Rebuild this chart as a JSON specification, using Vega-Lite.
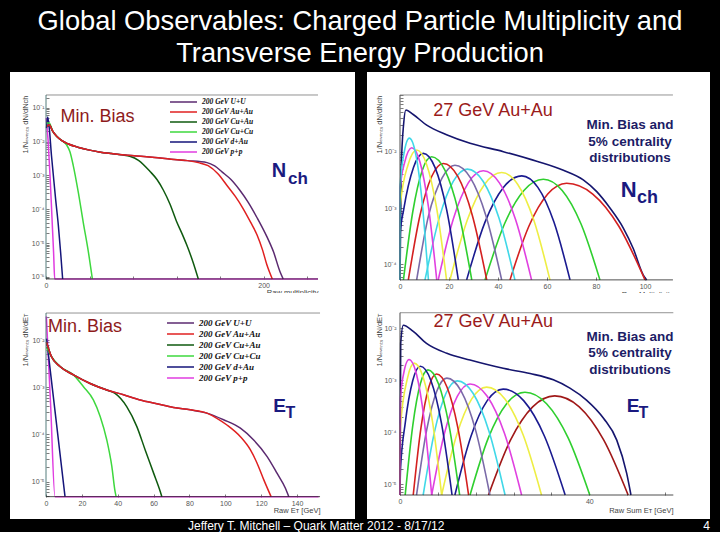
{
"$schema": "https://vega.github.io/schema/vega-lite/v6.json",
"background": "black",
"padding": {"left": 10, "right": 10, "top": 7, "bottom": 0},
"title": {"text": ["Global Observables: Charged Particle Multiplicity and", "Transverse Energy Production"], "color": "white", "font": "Liberation Sans", "fontSize": 27.3, "fontWeight": "normal", "lineHeight": 32, "anchor": "middle", "baseline": "top", "offset": 5},
"config": {
  "view": {"fill": "white", "stroke": null},
  "axis": {"grid": false, "domain": false, "labelFont": "Liberation Sans", "labelFontSize": 7, "labelColor": "#555", "titleFont": "Liberation Sans", "titleFontSize": 7.5, "titleFontWeight": "normal", "titleColor": "#444", "tickColor": "#444", "tickWidth": 0.7, "tickSize": -3, "labelOverlap": false, "labelFlush": false}
},
"datasets": {
  "tl": [
    {"s": "200 GeV p+p", "x": 0.3, "y": 5.01e-2}, {"s": "200 GeV p+p", "x": 1, "y": 2.51e-2}, {"s": "200 GeV p+p", "x": 2, "y": 1.0e-2}, {"s": "200 GeV p+p", "x": 3, "y": 2.51e-3}, {"s": "200 GeV p+p", "x": 4, "y": 6.31e-4}, {"s": "200 GeV p+p", "x": 5, "y": 1.26e-4}, {"s": "200 GeV p+p", "x": 6, "y": 2.51e-5}, {"s": "200 GeV p+p", "x": 7, "y": 5.01e-6}, {"s": "200 GeV p+p", "x": 8, "y": 8.71e-7}, {"s": "200 GeV p+p", "x": 250, "y": 8.71e-7},
    {"s": "200 GeV d+Au", "x": 0.5, "y": 2.51e-2}, {"s": "200 GeV d+Au", "x": 1.5, "y": 5.37e-2}, {"s": "200 GeV d+Au", "x": 3, "y": 2.51e-2}, {"s": "200 GeV d+Au", "x": 5, "y": 3.98e-3}, {"s": "200 GeV d+Au", "x": 6.7, "y": 1.05e-3}, {"s": "200 GeV d+Au", "x": 9, "y": 1.78e-4}, {"s": "200 GeV d+Au", "x": 11.3, "y": 3.47e-5}, {"s": "200 GeV d+Au", "x": 13.5, "y": 5.01e-6}, {"s": "200 GeV d+Au", "x": 15.3, "y": 8.71e-7},
    {"s": "200 GeV Cu+Cu", "x": 0.5, "y": 3.55e-2}, {"s": "200 GeV Cu+Cu", "x": 3, "y": 3.55e-2}, {"s": "200 GeV Cu+Cu", "x": 6, "y": 2.09e-2}, {"s": "200 GeV Cu+Cu", "x": 10, "y": 1.41e-2}, {"s": "200 GeV Cu+Cu", "x": 15, "y": 1.05e-2}, {"s": "200 GeV Cu+Cu", "x": 19, "y": 7.94e-3}, {"s": "200 GeV Cu+Cu", "x": 22, "y": 5.01e-3}, {"s": "200 GeV Cu+Cu", "x": 25, "y": 2.0e-3}, {"s": "200 GeV Cu+Cu", "x": 29.7, "y": 3.16e-4}, {"s": "200 GeV Cu+Cu", "x": 34.3, "y": 3.98e-5}, {"s": "200 GeV Cu+Cu", "x": 38.9, "y": 5.62e-6}, {"s": "200 GeV Cu+Cu", "x": 42.6, "y": 8.71e-7},
    {"s": "200 GeV Cu+Au", "x": 1, "y": 2.82e-2}, {"s": "200 GeV Cu+Au", "x": 3, "y": 3.16e-2}, {"s": "200 GeV Cu+Au", "x": 6, "y": 2.09e-2}, {"s": "200 GeV Cu+Au", "x": 10, "y": 1.41e-2}, {"s": "200 GeV Cu+Au", "x": 15, "y": 1.05e-2}, {"s": "200 GeV Cu+Au", "x": 20, "y": 8.71e-3}, {"s": "200 GeV Cu+Au", "x": 30, "y": 6.76e-3}, {"s": "200 GeV Cu+Au", "x": 40, "y": 5.62e-3}, {"s": "200 GeV Cu+Au", "x": 50, "y": 4.90e-3}, {"s": "200 GeV Cu+Au", "x": 60, "y": 4.47e-3}, {"s": "200 GeV Cu+Au", "x": 70, "y": 4.07e-3}, {"s": "200 GeV Cu+Au", "x": 77, "y": 3.72e-3}, {"s": "200 GeV Cu+Au", "x": 85, "y": 2.82e-3}, {"s": "200 GeV Cu+Au", "x": 95.6, "y": 1.32e-3}, {"s": "200 GeV Cu+Au", "x": 102, "y": 7.59e-4}, {"s": "200 GeV Cu+Au", "x": 107.8, "y": 3.72e-4}, {"s": "200 GeV Cu+Au", "x": 114, "y": 1.41e-4}, {"s": "200 GeV Cu+Au", "x": 120, "y": 4.37e-5}, {"s": "200 GeV Cu+Au", "x": 125, "y": 1.91e-5}, {"s": "200 GeV Cu+Au", "x": 129.3, "y": 8.91e-6}, {"s": "200 GeV Cu+Au", "x": 135, "y": 2.82e-6}, {"s": "200 GeV Cu+Au", "x": 140, "y": 8.71e-7},
    {"s": "200 GeV U+U", "x": 1, "y": 2.82e-2}, {"s": "200 GeV U+U", "x": 3, "y": 3.16e-2}, {"s": "200 GeV U+U", "x": 6, "y": 2.09e-2}, {"s": "200 GeV U+U", "x": 10, "y": 1.41e-2}, {"s": "200 GeV U+U", "x": 15, "y": 1.05e-2}, {"s": "200 GeV U+U", "x": 20, "y": 8.71e-3}, {"s": "200 GeV U+U", "x": 30, "y": 6.76e-3}, {"s": "200 GeV U+U", "x": 40, "y": 5.62e-3}, {"s": "200 GeV U+U", "x": 50, "y": 4.90e-3}, {"s": "200 GeV U+U", "x": 60, "y": 4.47e-3}, {"s": "200 GeV U+U", "x": 75, "y": 3.98e-3}, {"s": "200 GeV U+U", "x": 90, "y": 3.63e-3}, {"s": "200 GeV U+U", "x": 100, "y": 3.39e-3}, {"s": "200 GeV U+U", "x": 115, "y": 3.02e-3}, {"s": "200 GeV U+U", "x": 130, "y": 2.75e-3}, {"s": "200 GeV U+U", "x": 148, "y": 2.40e-3}, {"s": "200 GeV U+U", "x": 155, "y": 1.91e-3}, {"s": "200 GeV U+U", "x": 162, "y": 1.26e-3}, {"s": "200 GeV U+U", "x": 170, "y": 7.59e-4}, {"s": "200 GeV U+U", "x": 178, "y": 3.72e-4}, {"s": "200 GeV U+U", "x": 186, "y": 1.58e-4}, {"s": "200 GeV U+U", "x": 194, "y": 5.62e-5}, {"s": "200 GeV U+U", "x": 203, "y": 1.55e-5}, {"s": "200 GeV U+U", "x": 209, "y": 5.62e-6}, {"s": "200 GeV U+U", "x": 215, "y": 1.45e-6}, {"s": "200 GeV U+U", "x": 218, "y": 8.71e-7},
    {"s": "200 GeV Au+Au", "x": 1, "y": 2.82e-2}, {"s": "200 GeV Au+Au", "x": 3, "y": 3.16e-2}, {"s": "200 GeV Au+Au", "x": 6, "y": 2.09e-2}, {"s": "200 GeV Au+Au", "x": 10, "y": 1.41e-2}, {"s": "200 GeV Au+Au", "x": 15, "y": 1.05e-2}, {"s": "200 GeV Au+Au", "x": 20, "y": 8.71e-3}, {"s": "200 GeV Au+Au", "x": 30, "y": 6.76e-3}, {"s": "200 GeV Au+Au", "x": 40, "y": 5.62e-3}, {"s": "200 GeV Au+Au", "x": 50, "y": 4.90e-3}, {"s": "200 GeV Au+Au", "x": 60, "y": 4.47e-3}, {"s": "200 GeV Au+Au", "x": 75, "y": 3.98e-3}, {"s": "200 GeV Au+Au", "x": 90, "y": 3.63e-3}, {"s": "200 GeV Au+Au", "x": 100, "y": 3.39e-3}, {"s": "200 GeV Au+Au", "x": 115, "y": 3.02e-3}, {"s": "200 GeV Au+Au", "x": 130, "y": 2.75e-3}, {"s": "200 GeV Au+Au", "x": 140, "y": 2.40e-3}, {"s": "200 GeV Au+Au", "x": 149, "y": 1.95e-3}, {"s": "200 GeV Au+Au", "x": 158, "y": 1.12e-3}, {"s": "200 GeV Au+Au", "x": 166, "y": 5.25e-4}, {"s": "200 GeV Au+Au", "x": 174, "y": 2.40e-4}, {"s": "200 GeV Au+Au", "x": 181, "y": 1.07e-4}, {"s": "200 GeV Au+Au", "x": 188, "y": 4.17e-5}, {"s": "200 GeV Au+Au", "x": 194, "y": 1.74e-5}, {"s": "200 GeV Au+Au", "x": 199, "y": 6.31e-6}, {"s": "200 GeV Au+Au", "x": 203, "y": 2.29e-6}, {"s": "200 GeV Au+Au", "x": 208, "y": 8.71e-7}
  ],
  "tr": [
    {"s": "mb", "x": 0, "y": 5.3e-5}, {"s": "mb", "x": 0.5, "y": 5.01e-3}, {"s": "mb", "x": 1.5, "y": 3.16e-2}, {"s": "mb", "x": 2.4, "y": 5.50e-2}, {"s": "mb", "x": 5.4, "y": 4.57e-2}, {"s": "mb", "x": 10.9, "y": 2.95e-2}, {"s": "mb", "x": 19, "y": 2.0e-2}, {"s": "mb", "x": 28.6, "y": 1.41e-2}, {"s": "mb", "x": 42.2, "y": 1.0e-2}, {"s": "mb", "x": 55.8, "y": 6.76e-3}, {"s": "mb", "x": 66.7, "y": 4.68e-3}, {"s": "mb", "x": 74.8, "y": 3.16e-3}, {"s": "mb", "x": 80.3, "y": 1.95e-3}, {"s": "mb", "x": 85.7, "y": 1.0e-3}, {"s": "mb", "x": 91.2, "y": 4.37e-4}, {"s": "mb", "x": 95.2, "y": 1.91e-4}, {"s": "mb", "x": 99.3, "y": 6.46e-5}, {"s": "mb", "x": 100.7, "y": 5.3e-5},
    {"s": "c1", "x": 44.9, "y": 5.3e-5}, {"s": "c1", "x": 52.6, "y": 4.75e-4}, {"s": "c1", "x": 60.3, "y": 1.77e-3}, {"s": "c1", "x": 68, "y": 2.75e-3}, {"s": "c1", "x": 78.67, "y": 1.77e-3}, {"s": "c1", "x": 89.33, "y": 4.75e-4}, {"s": "c1", "x": 100, "y": 5.3e-5},
    {"s": "c2", "x": 34.7, "y": 5.3e-5}, {"s": "c2", "x": 42.63, "y": 5.2e-4}, {"s": "c2", "x": 50.57, "y": 2.05e-3}, {"s": "c2", "x": 58.5, "y": 3.24e-3}, {"s": "c2", "x": 66.2, "y": 2.05e-3}, {"s": "c2", "x": 73.9, "y": 5.2e-4}, {"s": "c2", "x": 81.6, "y": 5.3e-5},
    {"s": "c3", "x": 27.2, "y": 5.3e-5}, {"s": "c3", "x": 34.7, "y": 5.62e-4}, {"s": "c3", "x": 42.2, "y": 2.32e-3}, {"s": "c3", "x": 49.7, "y": 3.72e-3}, {"s": "c3", "x": 56.27, "y": 2.32e-3}, {"s": "c3", "x": 62.83, "y": 5.62e-4}, {"s": "c3", "x": 69.4, "y": 5.3e-5},
    {"s": "c4", "x": 20.4, "y": 5.3e-5}, {"s": "c4", "x": 27.43, "y": 6.07e-4}, {"s": "c4", "x": 34.47, "y": 2.62e-3}, {"s": "c4", "x": 41.5, "y": 4.27e-3}, {"s": "c4", "x": 48.07, "y": 2.62e-3}, {"s": "c4", "x": 54.63, "y": 6.07e-4}, {"s": "c4", "x": 61.2, "y": 5.3e-5},
    {"s": "c5", "x": 15.6, "y": 5.3e-5}, {"s": "c5", "x": 21.73, "y": 6.31e-4}, {"s": "c5", "x": 27.87, "y": 2.79e-3}, {"s": "c5", "x": 34, "y": 4.57e-3}, {"s": "c5", "x": 40.57, "y": 2.79e-3}, {"s": "c5", "x": 47.13, "y": 6.31e-4}, {"s": "c5", "x": 53.7, "y": 5.3e-5},
    {"s": "c6", "x": 10.2, "y": 5.3e-5}, {"s": "c6", "x": 15.97, "y": 6.55e-4}, {"s": "c6", "x": 21.73, "y": 2.96e-3}, {"s": "c6", "x": 27.5, "y": 4.9e-3}, {"s": "c6", "x": 33.97, "y": 2.96e-3}, {"s": "c6", "x": 40.43, "y": 6.55e-4}, {"s": "c6", "x": 46.9, "y": 5.3e-5},
    {"s": "c7", "x": 6.8, "y": 5.3e-5}, {"s": "c7", "x": 11.6, "y": 7.16e-4}, {"s": "c7", "x": 17.2, "y": 3.42e-3}, {"s": "c7", "x": 22.4, "y": 5.75e-3}, {"s": "c7", "x": 28.77, "y": 3.42e-3}, {"s": "c7", "x": 35.13, "y": 7.16e-4}, {"s": "c7", "x": 41.5, "y": 5.3e-5},
    {"s": "c8", "x": 3.4, "y": 5.3e-5}, {"s": "c8", "x": 8.17, "y": 7.45e-4}, {"s": "c8", "x": 12.93, "y": 3.63e-3}, {"s": "c8", "x": 17.7, "y": 6.17e-3}, {"s": "c8", "x": 23.6, "y": 3.63e-3}, {"s": "c8", "x": 29.5, "y": 7.45e-4}, {"s": "c8", "x": 35.4, "y": 5.3e-5},
    {"s": "c9", "x": 1.4, "y": 5.3e-5}, {"s": "c9", "x": 5.23, "y": 8.67e-4}, {"s": "c9", "x": 9.07, "y": 4.65e-3}, {"s": "c9", "x": 12.9, "y": 8.13e-3}, {"s": "c9", "x": 18.37, "y": 4.65e-3}, {"s": "c9", "x": 23.83, "y": 8.67e-4}, {"s": "c9", "x": 29.3, "y": 5.3e-5},
    {"s": "c10", "x": 0, "y": 5.3e-5}, {"s": "c10", "x": 0.1, "y": 3.63e-4}, {"s": "c10", "x": 1.5, "y": 9.38e-4}, {"s": "c10", "x": 5.5, "y": 5.25e-3}, {"s": "c10", "x": 9.5, "y": 9.33e-3}, {"s": "c10", "x": 14.27, "y": 5.25e-3}, {"s": "c10", "x": 19.03, "y": 9.38e-4}, {"s": "c10", "x": 23.8, "y": 5.3e-5},
    {"s": "c11", "x": 0, "y": 5.3e-5}, {"s": "c11", "x": 0.1, "y": 1.106e-3}, {"s": "c11", "x": 3.33, "y": 5.94e-3}, {"s": "c11", "x": 6.8, "y": 1.07e-2}, {"s": "c11", "x": 10.87, "y": 5.94e-3}, {"s": "c11", "x": 14.93, "y": 1.01e-3}, {"s": "c11", "x": 19, "y": 5.3e-5},
    {"s": "c12", "x": 0, "y": 5.3e-5}, {"s": "c12", "x": 0.1, "y": 2.29e-3}, {"s": "c12", "x": 1.9, "y": 6.44e-3}, {"s": "c12", "x": 4.8, "y": 1.175e-2}, {"s": "c12", "x": 8.2, "y": 6.44e-3}, {"s": "c12", "x": 11.6, "y": 1.06e-3}, {"s": "c12", "x": 15, "y": 5.3e-5},
    {"s": "c13", "x": 0, "y": 5.3e-5}, {"s": "c13", "x": 0.1, "y": 2.57e-3}, {"s": "c13", "x": 1.6, "y": 9.12e-3}, {"s": "c13", "x": 3.8, "y": 1.74e-2}, {"s": "c13", "x": 6.4, "y": 9.12e-3}, {"s": "c13", "x": 9.0, "y": 1.32e-3}, {"s": "c13", "x": 11.6, "y": 5.3e-5}
  ],
  "bl": [
    {"s": "200 GeV p+p", "x": 0.2, "y": 3.16e-2}, {"s": "200 GeV p+p", "x": 2.6, "y": 3.98e-4}, {"s": "200 GeV p+p", "x": 5.0, "y": 4.79e-6}, {"s": "200 GeV p+p", "x": 152, "y": 4.79e-6},
    {"s": "200 GeV d+Au", "x": 0.3, "y": 1.07e-2}, {"s": "200 GeV d+Au", "x": 5.5, "y": 2.19e-4}, {"s": "200 GeV d+Au", "x": 10.6, "y": 4.79e-6},
    {"s": "200 GeV Cu+Cu", "x": 0.3, "y": 7.08e-3}, {"s": "200 GeV Cu+Cu", "x": 3, "y": 4.47e-3}, {"s": "200 GeV Cu+Cu", "x": 7.8, "y": 2.75e-3}, {"s": "200 GeV Cu+Cu", "x": 15.3, "y": 1.82e-3}, {"s": "200 GeV Cu+Cu", "x": 20.9, "y": 1.02e-3}, {"s": "200 GeV Cu+Cu", "x": 26.4, "y": 5.37e-4}, {"s": "200 GeV Cu+Cu", "x": 30.2, "y": 2.40e-4}, {"s": "200 GeV Cu+Cu", "x": 33.9, "y": 7.59e-5}, {"s": "200 GeV Cu+Cu", "x": 36.7, "y": 2.09e-5}, {"s": "200 GeV Cu+Cu", "x": 38.5, "y": 6.17e-6}, {"s": "200 GeV Cu+Cu", "x": 39.1, "y": 4.79e-6},
    {"s": "200 GeV Cu+Au", "x": 0.3, "y": 8.91e-3}, {"s": "200 GeV Cu+Au", "x": 3, "y": 4.47e-3}, {"s": "200 GeV Cu+Au", "x": 7.8, "y": 2.75e-3}, {"s": "200 GeV Cu+Au", "x": 15.3, "y": 1.82e-3}, {"s": "200 GeV Cu+Au", "x": 24.6, "y": 1.20e-3}, {"s": "200 GeV Cu+Au", "x": 33.9, "y": 8.71e-4}, {"s": "200 GeV Cu+Au", "x": 38.5, "y": 7.41e-4}, {"s": "200 GeV Cu+Au", "x": 45, "y": 3.89e-4}, {"s": "200 GeV Cu+Au", "x": 50.6, "y": 1.48e-4}, {"s": "200 GeV Cu+Au", "x": 55.3, "y": 4.68e-5}, {"s": "200 GeV Cu+Au", "x": 60, "y": 1.51e-5}, {"s": "200 GeV Cu+Au", "x": 63.7, "y": 6.17e-6}, {"s": "200 GeV Cu+Au", "x": 64.6, "y": 4.79e-6},
    {"s": "200 GeV U+U", "x": 0.3, "y": 8.91e-3}, {"s": "200 GeV U+U", "x": 3, "y": 4.47e-3}, {"s": "200 GeV U+U", "x": 7.8, "y": 2.75e-3}, {"s": "200 GeV U+U", "x": 15.3, "y": 1.82e-3}, {"s": "200 GeV U+U", "x": 24.6, "y": 1.20e-3}, {"s": "200 GeV U+U", "x": 33.9, "y": 8.71e-4}, {"s": "200 GeV U+U", "x": 43.2, "y": 6.92e-4}, {"s": "200 GeV U+U", "x": 52.5, "y": 5.37e-4}, {"s": "200 GeV U+U", "x": 61.8, "y": 4.47e-4}, {"s": "200 GeV U+U", "x": 71.1, "y": 3.72e-4}, {"s": "200 GeV U+U", "x": 80.4, "y": 3.31e-4}, {"s": "200 GeV U+U", "x": 89.7, "y": 2.82e-4}, {"s": "200 GeV U+U", "x": 99, "y": 2.04e-4}, {"s": "200 GeV U+U", "x": 108.4, "y": 1.35e-4}, {"s": "200 GeV U+U", "x": 115.8, "y": 7.59e-5}, {"s": "200 GeV U+U", "x": 123.3, "y": 3.39e-5}, {"s": "200 GeV U+U", "x": 128.8, "y": 1.51e-5}, {"s": "200 GeV U+U", "x": 133.5, "y": 7.24e-6}, {"s": "200 GeV U+U", "x": 135.4, "y": 4.79e-6},
    {"s": "200 GeV Au+Au", "x": 0.3, "y": 8.91e-3}, {"s": "200 GeV Au+Au", "x": 3, "y": 4.47e-3}, {"s": "200 GeV Au+Au", "x": 7.8, "y": 2.75e-3}, {"s": "200 GeV Au+Au", "x": 15.3, "y": 1.82e-3}, {"s": "200 GeV Au+Au", "x": 24.6, "y": 1.20e-3}, {"s": "200 GeV Au+Au", "x": 33.9, "y": 8.71e-4}, {"s": "200 GeV Au+Au", "x": 43.2, "y": 6.92e-4}, {"s": "200 GeV Au+Au", "x": 52.5, "y": 5.37e-4}, {"s": "200 GeV Au+Au", "x": 61.8, "y": 4.47e-4}, {"s": "200 GeV Au+Au", "x": 71.1, "y": 3.72e-4}, {"s": "200 GeV Au+Au", "x": 80.4, "y": 3.31e-4}, {"s": "200 GeV Au+Au", "x": 89.7, "y": 2.82e-4}, {"s": "200 GeV Au+Au", "x": 95.3, "y": 2.19e-4}, {"s": "200 GeV Au+Au", "x": 100.9, "y": 1.58e-4}, {"s": "200 GeV Au+Au", "x": 108.4, "y": 8.91e-5}, {"s": "200 GeV Au+Au", "x": 114, "y": 4.68e-5}, {"s": "200 GeV Au+Au", "x": 117.7, "y": 2.45e-5}, {"s": "200 GeV Au+Au", "x": 121.4, "y": 1.10e-5}, {"s": "200 GeV Au+Au", "x": 125.5, "y": 4.79e-6}
  ],
  "br": [
    {"s": "mb", "x": 0, "y": 6.22e-6}, {"s": "mb", "x": 0.15, "y": 5.13e-3}, {"s": "mb", "x": 0.7, "y": 1.148e-2}, {"s": "mb", "x": 2.8, "y": 8.71e-3}, {"s": "mb", "x": 5.6, "y": 5.13e-3}, {"s": "mb", "x": 9.9, "y": 3.31e-3}, {"s": "mb", "x": 14.8, "y": 2.45e-3}, {"s": "mb", "x": 21.8, "y": 1.70e-3}, {"s": "mb", "x": 27.5, "y": 1.35e-3}, {"s": "mb", "x": 32.4, "y": 1.02e-3}, {"s": "mb", "x": 35.9, "y": 7.08e-4}, {"s": "mb", "x": 39.4, "y": 4.17e-4}, {"s": "mb", "x": 43.0, "y": 1.86e-4}, {"s": "mb", "x": 45.8, "y": 7.08e-5}, {"s": "mb", "x": 47.9, "y": 1.62e-5}, {"s": "mb", "x": 48.8, "y": 6.22e-6},
    {"s": "d1", "x": 18.7, "y": 6.22e-6}, {"s": "d1", "x": 23.37, "y": 7.13e-5}, {"s": "d1", "x": 28.03, "y": 3.08e-4}, {"s": "d1", "x": 32.7, "y": 5.01e-4}, {"s": "d1", "x": 37.87, "y": 3.08e-4}, {"s": "d1", "x": 43.03, "y": 7.13e-5}, {"s": "d1", "x": 48.2, "y": 6.22e-6},
    {"s": "d2", "x": 14.8, "y": 6.22e-6}, {"s": "d2", "x": 18.67, "y": 7.80e-5}, {"s": "d2", "x": 22.53, "y": 3.55e-4}, {"s": "d2", "x": 26.4, "y": 5.89e-4}, {"s": "d2", "x": 30.97, "y": 3.55e-4}, {"s": "d2", "x": 35.53, "y": 7.80e-5}, {"s": "d2", "x": 40.1, "y": 6.22e-6},
    {"s": "d3", "x": 11.6, "y": 6.22e-6}, {"s": "d3", "x": 15.0, "y": 8.41e-5}, {"s": "d3", "x": 18.4, "y": 4.02e-4}, {"s": "d3", "x": 21.8, "y": 6.76e-4}, {"s": "d3", "x": 26.17, "y": 4.02e-4}, {"s": "d3", "x": 30.53, "y": 8.41e-5}, {"s": "d3", "x": 34.9, "y": 6.22e-6},
    {"s": "d4", "x": 8.8, "y": 6.22e-6}, {"s": "d4", "x": 11.97, "y": 8.85e-5}, {"s": "d4", "x": 15.13, "y": 4.36e-4}, {"s": "d4", "x": 18.3, "y": 7.41e-4}, {"s": "d4", "x": 22.17, "y": 4.36e-4}, {"s": "d4", "x": 26.03, "y": 8.85e-5}, {"s": "d4", "x": 29.9, "y": 6.22e-6},
    {"s": "d5", "x": 6.7, "y": 6.22e-6}, {"s": "d5", "x": 9.4, "y": 9.57e-5}, {"s": "d5", "x": 12.1, "y": 4.93e-4}, {"s": "d5", "x": 14.8, "y": 8.51e-4}, {"s": "d5", "x": 18.43, "y": 4.93e-4}, {"s": "d5", "x": 22.07, "y": 9.57e-5}, {"s": "d5", "x": 25.7, "y": 6.22e-6},
    {"s": "d6", "x": 4.9, "y": 6.22e-6}, {"s": "d6", "x": 7.3, "y": 1.03e-4}, {"s": "d6", "x": 9.7, "y": 5.57e-4}, {"s": "d6", "x": 12.1, "y": 9.77e-4}, {"s": "d6", "x": 15.47, "y": 5.57e-4}, {"s": "d6", "x": 18.83, "y": 1.03e-4}, {"s": "d6", "x": 22.2, "y": 6.22e-6},
    {"s": "d7", "x": 3.5, "y": 6.22e-6}, {"s": "d7", "x": 5.63, "y": 1.10e-4}, {"s": "d7", "x": 7.77, "y": 6.17e-4}, {"s": "d7", "x": 9.9, "y": 1.10e-3}, {"s": "d7", "x": 12.93, "y": 6.17e-4}, {"s": "d7", "x": 15.97, "y": 1.10e-4}, {"s": "d7", "x": 19.0, "y": 6.22e-6},
    {"s": "d8", "x": 2.8, "y": 6.22e-6}, {"s": "d8", "x": 4.43, "y": 1.22e-4}, {"s": "d8", "x": 6.07, "y": 7.28e-4}, {"s": "d8", "x": 7.7, "y": 1.32e-3}, {"s": "d8", "x": 9.97, "y": 7.28e-4}, {"s": "d8", "x": 12.23, "y": 1.22e-4}, {"s": "d8", "x": 14.5, "y": 6.22e-6},
    {"s": "d9", "x": 1.1, "y": 6.22e-6}, {"s": "d9", "x": 2.7, "y": 1.35e-4}, {"s": "d9", "x": 4.3, "y": 8.57e-4}, {"s": "d9", "x": 5.9, "y": 1.585e-3}, {"s": "d9", "x": 8.13, "y": 8.57e-4}, {"s": "d9", "x": 10.37, "y": 1.35e-4}, {"s": "d9", "x": 12.6, "y": 6.22e-6},
    {"s": "d10", "x": 0, "y": 6.22e-6}, {"s": "d10", "x": 0.1, "y": 1.92e-5}, {"s": "d10", "x": 1.1, "y": 1.48e-4}, {"s": "d10", "x": 2.7, "y": 9.89e-4}, {"s": "d10", "x": 4.3, "y": 1.86e-3}, {"s": "d10", "x": 6.53, "y": 9.89e-4}, {"s": "d10", "x": 8.77, "y": 1.48e-4}, {"s": "d10", "x": 11.0, "y": 6.22e-6},
    {"s": "d11", "x": 0, "y": 6.22e-6}, {"s": "d11", "x": 0.1, "y": 1.32e-4}, {"s": "d11", "x": 1.6, "y": 1.117e-3}, {"s": "d11", "x": 3.0, "y": 2.14e-3}, {"s": "d11", "x": 4.93, "y": 1.117e-3}, {"s": "d11", "x": 6.87, "y": 1.60e-4}, {"s": "d11", "x": 8.8, "y": 6.22e-6},
    {"s": "d12", "x": 0, "y": 6.22e-6}, {"s": "d12", "x": 0.1, "y": 4.29e-4}, {"s": "d12", "x": 0.73, "y": 1.29e-3}, {"s": "d12", "x": 1.9, "y": 2.51e-3}, {"s": "d12", "x": 3.5, "y": 1.29e-3}, {"s": "d12", "x": 5.1, "y": 1.75e-4}, {"s": "d12", "x": 6.7, "y": 6.22e-6}
  ]
},
"columns": 2,
"spacing": {"row": 0, "column": 12},
"bounds": "flush",
"resolve": {"scale": {"color": "independent", "x": "independent", "y": "independent"}, "legend": {"color": "independent"}},
"concat": [
  {
    "width": 345, "height": 221,
    "layer": [
      {"data": {"name": "tl"}, "mark": {"type": "line", "interpolate": "monotone", "strokeWidth": 1.5},
       "encoding": {
         "x": {"field": "x", "type": "quantitative", "scale": {"domain": [-33.09, 284.0], "nice": false, "zero": false},
               "axis": {"orient": "bottom", "offset": -14, "labelOverlap": false, "labelFlush": false, "values": [0,10,20,30,40,50,60,70,80,90,100,110,120,130,140,150,160,170,180,190,200,210,220,230,240,250], "labelExpr": "datum.value % 50 == 0 ? datum.label : ''", "labelPadding": 5, "title": "Raw multiplicity", "titleX": 308, "titleY": 9, "titleAlign": "right", "titleBaseline": "top"}},
         "y": {"field": "y", "type": "quantitative", "scale": {"type": "log", "domain": [3.35e-7, 1.148], "nice": false},
               "axis": {"orient": "left", "offset": -36, "labelOverlap": false, "values": [9e-7,1e-6,2e-6,3e-6,4e-6,5e-6,6e-6,7e-6,8e-6,9e-6,1e-5,2e-5,3e-5,4e-5,5e-5,6e-5,7e-5,8e-5,9e-5,1e-4,2e-4,3e-4,4e-4,5e-4,6e-4,7e-4,8e-4,9e-4,1e-3,2e-3,3e-3,4e-3,5e-3,6e-3,7e-3,8e-3,9e-3,1e-2,2e-2,3e-2,4e-2,5e-2,6e-2,7e-2,8e-2,9e-2,0.1,0.2], "labelExpr": "abs(log(datum.value)/LN10 - round(log(datum.value)/LN10)) < 0.01 ? '10⁻' + substring('⁰¹²³⁴⁵⁶⁷⁸⁹', -round(log(datum.value)/LN10), 1 - round(log(datum.value)/LN10)) : ''", "labelPadding": 5, "title": "1/Nₑᵥₑₙₜₛ dN/dNch", "titleAngle": -90, "titleX": -21, "titleY": 23, "titleAlign": "right", "titleBaseline": "middle"}},
         "color": {"field": "s", "type": "nominal",
                   "scale": {"domain": ["200 GeV U+U", "200 GeV Au+Au", "200 GeV Cu+Au", "200 GeV Cu+Cu", "200 GeV d+Au", "200 GeV p+p"], "range": ["#5b2a70", "#e02020", "#0f5a0f", "#3ed83e", "#15157a", "#e03ce0"]},
                   "legend": {"orient": "none", "legendX": 159, "legendY": 24, "title": null, "symbolType": "M-1,0H4.4", "symbolSize": 100, "symbolStrokeWidth": 1.5, "labelFont": "Liberation Serif", "labelFontStyle": "italic", "labelFontWeight": "bold", "labelFontSize": 7.5, "labelColor": "#111", "labelOffset": 21, "rowPadding": -2.3, "padding": 0}}
       }},
      {"data": {"values": [{}]}, "mark": {"type": "rule", "color": "#777", "strokeWidth": 0.8}, "encoding": {"x": {"datum": 0}, "x2": {"datum": 250}, "y": {"datum": 0.24}}},
      {"data": {"values": [{}]}, "mark": {"type": "rule", "color": "#222", "strokeWidth": 0.8}, "encoding": {"x": {"datum": 0}, "x2": {"datum": 250}, "y": {"datum": 8.71e-7}}},
      {"data": {"values": [{}]}, "mark": {"type": "rule", "color": "#2a5a5a", "strokeWidth": 0.8}, "encoding": {"x": {"datum": 0}, "y": {"datum": 8.71e-7}, "y2": {"datum": 0.24}}},
      {"data": {"values": [{}]}, "mark": {"type": "text", "text": "Min. Bias", "font": "Liberation Sans", "fontSize": 18, "color": "#8e1b1b", "align": "center", "baseline": "middle"}, "encoding": {"x": {"datum": 47.3}, "y": {"datum": 0.0519}}},
      {"data": {"values": [{}]}, "mark": {"type": "text", "text": "N", "font": "Liberation Sans", "fontSize": 20, "fontWeight": "bold", "color": "#1a1a80", "align": "left", "baseline": "alphabetic"}, "encoding": {"x": {"datum": 207.4}, "y": {"datum": 9.2e-4}}},
      {"data": {"values": [{}]}, "mark": {"type": "text", "text": "ch", "font": "Liberation Sans", "fontSize": 17, "fontWeight": "bold", "color": "#1a1a80", "align": "left", "baseline": "alphabetic"}, "encoding": {"x": {"datum": 222.4}, "y": {"datum": 5.6e-4}}}
    ]
  },
  {
    "width": 343, "height": 221,
    "layer": [
      {"data": {"name": "tr"}, "mark": {"type": "line", "interpolate": "monotone", "strokeWidth": 1.6},
       "encoding": {
         "x": {"field": "x", "type": "quantitative", "scale": {"domain": [-13.47, 126.53], "nice": false, "zero": false},
               "axis": {"orient": "bottom", "offset": -13, "labelOverlap": false, "labelFlush": false, "values": [0,5,10,15,20,25,30,35,40,45,50,55,60,65,70,75,80,85,90,95,100,105,110], "labelExpr": "datum.value % 20 == 0 ? datum.label : ''", "labelPadding": 5, "title": "Raw Multiplicity", "titleX": 306, "titleY": 10, "titleAlign": "right", "titleBaseline": "top"}},
         "y": {"field": "y", "type": "quantitative", "scale": {"type": "log", "domain": [3.10e-5, 0.2594], "nice": false},
               "axis": {"orient": "left", "offset": -33, "labelOverlap": false, "values": [6e-5,7e-5,8e-5,9e-5,1e-4,2e-4,3e-4,4e-4,5e-4,6e-4,7e-4,8e-4,9e-4,1e-3,2e-3,3e-3,4e-3,5e-3,6e-3,7e-3,8e-3,9e-3,1e-2,2e-2,3e-2,4e-2,5e-2,6e-2,7e-2,8e-2,9e-2,0.1], "labelExpr": "abs(log(datum.value)/LN10 - round(log(datum.value)/LN10)) < 0.01 && datum.value < 0.05 ? '10⁻' + substring('⁰¹²³⁴⁵⁶⁷⁸⁹', -round(log(datum.value)/LN10), 1 - round(log(datum.value)/LN10)) : ''", "labelPadding": 7, "title": "1/Nₑᵥₑₙₜₛ dN/dNch", "titleAngle": -90, "titleX": -21, "titleY": 23, "titleAlign": "right", "titleBaseline": "middle"}},
         "color": {"field": "s", "type": "nominal", "legend": null,
                   "scale": {"domain": ["mb", "c1", "c2", "c3", "c4", "c5", "c6", "c7", "c8", "c9", "c10", "c11", "c12", "c13"], "range": ["#15156e", "#d42020", "#2fcf2f", "#1a1a90", "#eeee44", "#e040e0", "#40d8e8", "#7a6aa8", "#d42020", "#2fcf2f", "#1a1a90", "#eeee44", "#e040e0", "#40d8e8"]}}
       }},
      {"data": {"values": [{}]}, "mark": {"type": "rule", "color": "#777", "strokeWidth": 0.8}, "encoding": {"x": {"datum": 0}, "x2": {"datum": 111.4}, "y": {"datum": 0.1014}}},
      {"data": {"values": [{}]}, "mark": {"type": "rule", "color": "#222", "strokeWidth": 0.8}, "encoding": {"x": {"datum": 0}, "x2": {"datum": 111.4}, "y": {"datum": 5.3e-5}}},
      {"data": {"values": [{}]}, "mark": {"type": "rule", "color": "#222", "strokeWidth": 0.8}, "encoding": {"x": {"datum": 0}, "y": {"datum": 5.3e-5}, "y2": {"datum": 0.1014}}},
      {"data": {"values": [{}]}, "mark": {"type": "text", "text": "27 GeV Au+Au", "font": "Liberation Sans", "fontSize": 18, "color": "#9b1b1b", "align": "center", "baseline": "middle"}, "encoding": {"x": {"datum": 37.96}, "y": {"datum": 0.0527}}},
      {"data": {"values": [{}]}, "mark": {"type": "text", "text": ["Min. Bias and", "5% centrality", "distributions"], "lineHeight": 16.7, "font": "Liberation Sans", "fontSize": 13.5, "fontWeight": "bold", "color": "#1c1c66", "align": "center", "baseline": "middle"}, "encoding": {"x": {"datum": 93.88}, "y": {"datum": 0.0297}}},
      {"data": {"values": [{}]}, "mark": {"type": "text", "text": "N", "font": "Liberation Sans", "fontSize": 22, "fontWeight": "bold", "color": "#1a1a80", "align": "left", "baseline": "alphabetic"}, "encoding": {"x": {"datum": 90.08}, "y": {"datum": 1.585e-3}}},
      {"data": {"values": [{}]}, "mark": {"type": "text", "text": "ch", "font": "Liberation Sans", "fontSize": 18, "fontWeight": "bold", "color": "#1a1a80", "align": "left", "baseline": "alphabetic"}, "encoding": {"x": {"datum": 96.73}, "y": {"datum": 1.21e-3}}}
    ]
  },
  {
    "width": 345, "height": 226,
    "title": {"text": "Jeffery T. Mitchell – Quark Matter 2012 - 8/17/12", "orient": "bottom", "anchor": "start", "frame": "group", "dx": 178, "offset": 2, "baseline": "top", "color": "white", "font": "Liberation Sans", "fontSize": 12, "fontWeight": "normal"},
    "layer": [
      {"data": {"name": "bl"}, "mark": {"type": "line", "interpolate": "monotone", "strokeWidth": 1.5},
       "encoding": {
         "x": {"field": "x", "type": "quantitative", "scale": {"domain": [-20.08, 172.3], "nice": false, "zero": false},
               "axis": {"orient": "bottom", "offset": -22, "labelOverlap": false, "labelFlush": false, "values": [0,5,10,15,20,25,30,35,40,45,50,55,60,65,70,75,80,85,90,95,100,105,110,115,120,125,130,135,140,145,150], "labelExpr": "datum.value % 20 == 0 ? datum.label : ''", "labelPadding": 5, "title": "Raw Eᴛ [GeV]", "titleX": 310, "titleY": 9, "titleAlign": "right", "titleBaseline": "top"}},
         "y": {"field": "y", "type": "quantitative", "scale": {"type": "log", "domain": [1.61e-6, 0.0991], "nice": false},
               "axis": {"orient": "left", "offset": -36, "labelOverlap": false, "values": [5e-6,6e-6,7e-6,8e-6,9e-6,1e-5,2e-5,3e-5,4e-5,5e-5,6e-5,7e-5,8e-5,9e-5,1e-4,2e-4,3e-4,4e-4,5e-4,6e-4,7e-4,8e-4,9e-4,1e-3,2e-3,3e-3,4e-3,5e-3,6e-3,7e-3,8e-3,9e-3,1e-2,2e-2,3e-2], "labelExpr": "abs(log(datum.value)/LN10 - round(log(datum.value)/LN10)) < 0.01 ? '10⁻' + substring('⁰¹²³⁴⁵⁶⁷⁸⁹', -round(log(datum.value)/LN10), 1 - round(log(datum.value)/LN10)) : ''", "labelPadding": 5, "title": "1/Nₑᵥₑₙₜₛ dN/dEᴛ", "titleAngle": -90, "titleX": -21, "titleY": 20, "titleAlign": "right", "titleBaseline": "middle"}},
         "color": {"field": "s", "type": "nominal",
                   "scale": {"domain": ["200 GeV U+U", "200 GeV Au+Au", "200 GeV Cu+Au", "200 GeV Cu+Cu", "200 GeV d+Au", "200 GeV p+p"], "range": ["#5b2a70", "#e02020", "#0f5a0f", "#3ed83e", "#15157a", "#e03ce0"]},
                   "legend": {"orient": "none", "legendX": 156, "legendY": 24, "title": null, "symbolType": "M-1,0H4.4", "symbolSize": 100, "symbolStrokeWidth": 1.5, "labelFont": "Liberation Serif", "labelFontStyle": "italic", "labelFontWeight": "bold", "labelFontSize": 9, "labelColor": "#111", "labelOffset": 21, "rowPadding": -1.2, "padding": 0}}
       }},
      {"data": {"values": [{}]}, "mark": {"type": "rule", "color": "#777", "strokeWidth": 0.8}, "encoding": {"x": {"datum": 0}, "x2": {"datum": 152.8}, "y": {"datum": 0.0373}}},
      {"data": {"values": [{}]}, "mark": {"type": "rule", "color": "#222", "strokeWidth": 0.8}, "encoding": {"x": {"datum": 0}, "x2": {"datum": 152.8}, "y": {"datum": 4.79e-6}}},
      {"data": {"values": [{}]}, "mark": {"type": "rule", "color": "#2a5a5a", "strokeWidth": 0.8}, "encoding": {"x": {"datum": 0}, "y": {"datum": 4.79e-6}, "y2": {"datum": 0.0373}}},
      {"data": {"values": [{}]}, "mark": {"type": "text", "text": "Min. Bias", "font": "Liberation Sans", "fontSize": 18, "color": "#8e1b1b", "align": "center", "baseline": "middle"}, "encoding": {"x": {"datum": 21.75}, "y": {"datum": 0.01914}}},
      {"data": {"values": [{}]}, "mark": {"type": "text", "text": "E", "font": "Liberation Sans", "fontSize": 19, "fontWeight": "bold", "color": "#1a1a80", "align": "left", "baseline": "alphabetic"}, "encoding": {"x": {"datum": 126.77}, "y": {"datum": 3.03e-4}}},
      {"data": {"values": [{}]}, "mark": {"type": "text", "text": "T", "font": "Liberation Sans", "fontSize": 16, "fontWeight": "bold", "color": "#1a1a80", "align": "left", "baseline": "alphabetic"}, "encoding": {"x": {"datum": 133.57}, "y": {"datum": 2.19e-4}}}
    ]
  },
  {
    "width": 343, "height": 226,
    "title": {"text": "4", "orient": "bottom", "anchor": "end", "frame": "group", "offset": 2, "baseline": "top", "color": "white", "font": "Liberation Sans", "fontSize": 12, "fontWeight": "normal"},
    "layer": [
      {"data": {"name": "br"}, "mark": {"type": "line", "interpolate": "monotone", "strokeWidth": 1.6},
       "encoding": {
         "x": {"field": "x", "type": "quantitative", "scale": {"domain": [-6.97, 65.5], "nice": false, "zero": false},
               "axis": {"orient": "bottom", "offset": -24, "labelOverlap": false, "labelFlush": false, "values": [0,2,4,6,8,10,12,14,16,18,20,22,24,26,28,30,32,34,36,38,40,42,44,46,48,50,52,54,56], "labelExpr": "datum.value % 10 == 0 ? datum.label : ''", "labelPadding": 5, "title": "Raw Sum Eᴛ [GeV]", "titleX": 306, "titleY": 11, "titleAlign": "right", "titleBaseline": "top"}},
         "y": {"field": "y", "type": "quantitative", "scale": {"type": "log", "domain": [2.15e-6, 0.0478], "nice": false},
               "axis": {"orient": "left", "offset": -33, "labelOverlap": false, "values": [7e-6,8e-6,9e-6,1e-5,2e-5,3e-5,4e-5,5e-5,6e-5,7e-5,8e-5,9e-5,1e-4,2e-4,3e-4,4e-4,5e-4,6e-4,7e-4,8e-4,9e-4,1e-3,2e-3,3e-3,4e-3,5e-3,6e-3,7e-3,8e-3,9e-3,1e-2], "labelExpr": "abs(log(datum.value)/LN10 - round(log(datum.value)/LN10)) < 0.01 ? '10⁻' + substring('⁰¹²³⁴⁵⁶⁷⁸⁹', -round(log(datum.value)/LN10), 1 - round(log(datum.value)/LN10)) : ''", "labelPadding": 7, "title": "1/Nₑᵥₑₙₜₛ dN/dEᴛ", "titleAngle": -90, "titleX": -21, "titleY": 20, "titleAlign": "right", "titleBaseline": "middle"}},
         "color": {"field": "s", "type": "nominal", "legend": null,
                   "scale": {"domain": ["mb", "d1", "d2", "d3", "d4", "d5", "d6", "d7", "d8", "d9", "d10", "d11", "d12"], "range": ["#15156e", "#a01818", "#2fcf2f", "#1a1a90", "#eeee44", "#e040e0", "#40d8e8", "#7a6aa8", "#d42020", "#2fcf2f", "#1a1a90", "#eeee44", "#e040e0"]}}
       }},
      {"data": {"values": [{}]}, "mark": {"type": "rule", "color": "#777", "strokeWidth": 0.8}, "encoding": {"x": {"datum": 0}, "x2": {"datum": 57.75}, "y": {"datum": 0.01995}}},
      {"data": {"values": [{}]}, "mark": {"type": "rule", "color": "#222", "strokeWidth": 0.8}, "encoding": {"x": {"datum": 0}, "x2": {"datum": 57.75}, "y": {"datum": 6.22e-6}}},
      {"data": {"values": [{}]}, "mark": {"type": "rule", "color": "#222", "strokeWidth": 0.8}, "encoding": {"x": {"datum": 0}, "y": {"datum": 6.22e-6}, "y2": {"datum": 0.01995}}},
      {"data": {"values": [{}]}, "mark": {"type": "text", "text": "27 GeV Au+Au", "font": "Liberation Sans", "fontSize": 18, "color": "#9b1b1b", "align": "center", "baseline": "middle"}, "encoding": {"x": {"datum": 19.72}, "y": {"datum": 0.01339}}},
      {"data": {"values": [{}]}, "mark": {"type": "text", "text": ["Min. Bias and", "5% centrality", "distributions"], "lineHeight": 16.7, "font": "Liberation Sans", "fontSize": 13.5, "fontWeight": "bold", "color": "#1c1c66", "align": "center", "baseline": "middle"}, "encoding": {"x": {"datum": 48.6}, "y": {"datum": 6.89e-3}}},
      {"data": {"values": [{}]}, "mark": {"type": "text", "text": "E", "font": "Liberation Sans", "fontSize": 19, "fontWeight": "bold", "color": "#1a1a80", "align": "left", "baseline": "alphabetic"}, "encoding": {"x": {"datum": 47.9}, "y": {"datum": 2.49e-4}}},
      {"data": {"values": [{}]}, "mark": {"type": "text", "text": "T", "font": "Liberation Sans", "fontSize": 16, "fontWeight": "bold", "color": "#1a1a80", "align": "left", "baseline": "alphabetic"}, "encoding": {"x": {"datum": 50.39}, "y": {"datum": 1.86e-4}}}
    ]
  }
]
}
